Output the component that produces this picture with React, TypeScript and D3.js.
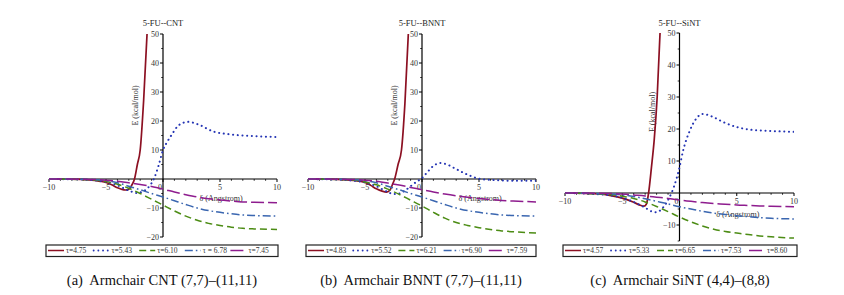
import React from "react";
import * as d3 from "d3";

// δ (Å) vs E (kcal/mol)
const CNT_T1 = [[-10,0],[-8,-0.05],[-6.5,-0.3],[-5.5,-0.8],[-5,-1.2],[-4.5,-2],[-4,-3],[-3.6,-3.6],[-3.3,-3.8],[-3,-3.5],[-2.75,-2.2],[-2.5,0],[-2.25,5],[-2,10],[-1.7,27],[-1.4,50]];
const CNT_T2 = [[-10,0],[-7,-0.2],[-5,-1],[-4,-2.2],[-3,-4],[-2.3,-4.8],[-1.7,-4.2],[-1.2,-2.5],[-0.8,0],[-0.4,4.5],[0,10],[0.4,13],[0.8,15.5],[1.4,18.6],[2.2,19.7],[3.1,18.8],[4.4,16.4],[5.9,15.4],[7.9,14.8],[10,14.5]];
const CNT_T3 = [[-10,0],[-7,-0.2],[-5,-0.9],[-4,-1.8],[-3,-3.2],[-2,-5],[-1,-7],[0,-9],[1,-11],[2,-12.8],[3,-14.2],[4,-15.3],[5,-16],[6,-16.6],[7,-17],[8,-17.2],[10,-17.4]];
const CNT_T4 = [[-10,0],[-7,-0.1],[-5,-0.6],[-4,-1.3],[-3,-2.5],[-2,-3.7],[-1,-5],[0,-6.2],[1,-7.5],[2,-8.8],[3,-10],[4,-10.9],[5,-11.5],[6,-12],[7,-12.4],[8,-12.6],[10,-12.8]];
const CNT_T5 = [[-10,0],[-7,-0.1],[-5,-0.4],[-4,-0.8],[-3,-1.3],[-2,-1.9],[-1,-2.6],[0,-3.5],[1,-4.5],[2,-5.4],[3,-6.2],[4,-6.8],[5,-7.2],[6,-7.6],[7,-7.9],[8,-8],[10,-8.2]];

const BNNT_T1 = [[-10,0],[-8,-0.05],[-6,-0.5],[-5,-1.2],[-4.5,-2.2],[-4,-3.4],[-3.5,-4.2],[-3.1,-4.5],[-2.8,-3.8],[-2.6,-2],[-2.4,0],[-2.1,5],[-1.8,10],[-1.5,26],[-1.2,50]];
const BNNT_T2 = [[-10,0],[-7,-0.3],[-5,-1.2],[-4,-2.5],[-3,-4.5],[-2.5,-5.2],[-2,-5],[-1.5,-4],[-1,-2.5],[-0.5,-1],[0,0.3],[0.5,2.5],[1,4.5],[1.6,5.5],[2.2,5],[3,3.4],[4,1.5],[5,0.1],[6,-0.3],[7,-0.5],[8,-0.6],[10,-0.6]];
const BNNT_T3 = [[-10,0],[-7,-0.2],[-5,-1],[-4,-2],[-3,-3.5],[-2,-5.3],[-1,-7.3],[0,-9.3],[1,-11.5],[2,-13.5],[3,-15],[4,-16],[5,-16.8],[6,-17.4],[7,-17.9],[8,-18.2],[10,-18.6]];
const BNNT_T4 = [[-10,0],[-7,-0.1],[-5,-0.6],[-4,-1.3],[-3,-2.5],[-2,-3.7],[-1,-5],[0,-6.2],[1,-7.5],[2,-8.8],[3,-10],[4,-10.9],[5,-11.5],[6,-12],[7,-12.4],[8,-12.6],[10,-12.8]];
const BNNT_T5 = [[-10,0],[-7,-0.1],[-5,-0.4],[-4,-0.8],[-3,-1.4],[-2,-2.1],[-1,-2.9],[0,-3.7],[1,-4.5],[2,-5.2],[3,-5.8],[4,-6.3],[5,-6.7],[6,-7.1],[7,-7.4],[8,-7.6],[10,-7.9]];

const SINT_T1 = [[-10,0],[-7,-0.3],[-6,-0.8],[-5,-1.6],[-4,-2.9],[-3.5,-3.7],[-3.1,-4.1],[-2.9,-3.5],[-2.7,0],[-2.45,8],[-2.2,17],[-1.95,30],[-1.7,50]];
const SINT_T2 = [[-10,0],[-7,-0.4],[-5,-1.5],[-4,-2.8],[-3,-4.6],[-2.4,-5.8],[-2,-6],[-1.5,-4.8],[-1,-2.2],[-0.7,0],[-0.3,4],[0,8],[0.3,13],[0.9,19.5],[1.5,23.4],[2,24.7],[2.9,23.8],[3.8,22.2],[5,20.6],[6.4,19.7],[7.9,19.4],[10,19.1]];
const SINT_T3 = [[-10,0],[-7,-0.3],[-5,-1],[-4,-1.7],[-3,-2.8],[-2,-4.2],[-1,-5.8],[0,-7.5],[1,-9],[2,-10.3],[3,-11.3],[4,-12],[5,-12.5],[6,-13],[7,-13.4],[8,-13.7],[10,-14.1]];
const SINT_T4 = [[-10,0],[-7,-0.2],[-5,-0.6],[-4,-1.1],[-3,-1.8],[-2,-2.6],[-1,-3.4],[0,-4.3],[1,-5],[2,-5.7],[3,-6.3],[4,-6.7],[5,-7.1],[6,-7.4],[7,-7.7],[8,-7.9],[10,-8.1]];
const SINT_T5 = [[-10,0],[-7,-0.1],[-5,-0.3],[-4,-0.6],[-3,-0.9],[-2,-1.3],[-1,-1.7],[0,-2.2],[1,-2.6],[2,-3],[3,-3.3],[4,-3.5],[5,-3.75],[6,-3.9],[7,-4.05],[8,-4.15],[10,-4.3]];

const CNT_TAU = ["τ=4.75", "τ=5.43", "τ=6.10", "τ = 6.78", "τ=7.45"];
const BNNT_TAU = ["τ=4.83", "τ=5.52", "τ=6.21", "τ=6.90", "τ=7.59"];
const SINT_TAU = ["τ=4.57", "τ=5.33", "τ=6.65", "τ=7.53", "τ=8.60"];

const X_TICKS = [-10, -5, 0, 5, 10];
const Y_TICKS_AB = [-20, -10, 10, 20, 30, 40, 50];
const Y_TICKS_C = [-10, 10, 20, 30, 40, 50];

const COLORS = ["#8c1022", "#2434b4", "#4c8c14", "#3a66b0", "#8e1c8e"];
const DASHES = [null, "0.1,4.6", "7,4", "8,3,1.6,3", "13,4"];

const SERIF = "'Liberation Serif', 'DejaVu Serif', serif";

type Pt = number[];

interface PanelProps {
  series: Pt[][];
  taus: string[];
  title: string;
  caption: string;
  x0: number; x1: number;
  yTop: number; yBot: number;
  yMin: number;
  yTicks: number[];
  legendX0: number; legendX1: number;
}

function Panel(p: PanelProps) {
  const x = d3.scaleLinear().domain([-10, 10]).range([p.x0, p.x1]);
  const y = d3.scaleLinear().domain([p.yMin, 50]).range([p.yBot, p.yTop]);
  const line = d3.line<Pt>().x(d => x(d[0])).y(d => y(d[1])).curve(d3.curveMonotoneX);
  const ax = x(0), ay = y(0);
  const minorY = d3.range(p.yMin, 51, 5).filter(v => v % 10 !== 0);
  const minorX = d3.range(-10, 11, 1).filter(v => v % 5 !== 0);
  const fmt = d3.format("d");
  const legW = (p.legendX1 - p.legendX0 - 4) / 5;
  const legY = 250.5;
  const clipId = "clip" + p.title.replace(/[^A-Za-z]/g, "");

  return (
    <g>
      <defs>
        <clipPath id={clipId}>
          <rect x={p.x0} y={p.yTop - 1} width={p.x1 - p.x0} height={p.yBot - p.yTop + 1} />
        </clipPath>
      </defs>
      <text x={ax} y={26} textAnchor="middle" fontSize={8.5} fill="#222">{p.title}</text>

      {/* axes */}
      <line x1={p.x0} x2={p.x1} y1={ay} y2={ay} stroke="#000" strokeWidth={1.2} />
      <line x1={ax} x2={ax} y1={p.yTop} y2={p.yBot} stroke="#000" strokeWidth={1.2} />
      {p.yTicks.map(v => (
        <g key={"yt" + v}>
          <line x1={ax - 3} x2={ax} y1={y(v)} y2={y(v)} stroke="#000" strokeWidth={1} />
          <text x={ax - 4} y={y(v) + 3} textAnchor="end" fontSize={8} fill="#333">{fmt(v)}</text>
        </g>
      ))}
      {minorY.map(v => (
        <line key={"ym" + v} x1={ax - 1.8} x2={ax} y1={y(v)} y2={y(v)} stroke="#000" strokeWidth={0.8} />
      ))}
      {X_TICKS.map(v => (
        <g key={"xt" + v}>
          <line x1={x(v)} x2={x(v)} y1={ay} y2={ay + 3} stroke="#000" strokeWidth={1} />
          <text x={v === 0 ? x(v) - 3 : x(v)} y={ay + 11} textAnchor="middle" fontSize={8} fill="#333">{fmt(v)}</text>
        </g>
      ))}
      {minorX.map(v => (
        <line key={"xm" + v} x1={x(v)} x2={x(v)} y1={ay} y2={ay + 1.8} stroke="#000" strokeWidth={0.8} />
      ))}

      <text transform={`translate(${ax - 25},${y(25) - 1}) rotate(-90)`} textAnchor="middle" fontSize={8} fill="#333">E (kcal/mol)</text>
      <text x={x(5.1)} y={y(-6.5) + 3} textAnchor="middle" fontSize={8} fill="#333">δ (Angstrom)</text>

      {/* curves */}
      <g clipPath={`url(#${clipId})`}>
        {p.series.map((s, i) => (
          <path key={i} d={line(s) || ""} fill="none" stroke={COLORS[i]}
            strokeWidth={i === 1 ? 2 : i === 0 ? 1.7 : 1.5}
            strokeLinecap={i === 1 ? "round" : "butt"}
            strokeDasharray={DASHES[i] || undefined} />
        ))}
      </g>

      {/* legend */}
      <rect x={p.legendX0} y={245} width={p.legendX1 - p.legendX0} height={11.5} fill="#fff" stroke="#222" strokeWidth={1.2} />
      {p.taus.map((t, i) => {
        const lx = p.legendX0 + 2 + i * legW;
        return (
          <g key={"lg" + i}>
            <line x1={lx} x2={lx + 16} y1={legY} y2={legY} stroke={COLORS[i]} strokeWidth={i === 1 ? 1.8 : 1.5}
              strokeLinecap={i === 1 ? "round" : "butt"} strokeDasharray={DASHES[i] || undefined} />
            <text x={lx + 18} y={legY + 2.8} fontSize={7.5} fill="#333">{t}</text>
          </g>
        );
      })}

      <text x={(p.legendX0 + p.legendX1) / 2} y={285} textAnchor="middle" fontSize={14.5} fill="#111">{p.caption}</text>
    </g>
  );
}

export default function App() {
  return (
    <div style={{ position: "absolute", left: 0, top: 0 }}>
      <svg width={844} height={295} fontFamily={SERIF} style={{ display: "block", background: "#fff" }}>
        <Panel series={[CNT_T1, CNT_T2, CNT_T3, CNT_T4, CNT_T5]} taus={CNT_TAU}
          title="5-FU--CNT" caption={"(a)\u00a0 Armchair CNT (7,7)–(11,11)"}
          x0={49} x1={277} yTop={34} yBot={237} yMin={-20} yTicks={Y_TICKS_AB}
          legendX0={46} legendX1={278} />
        <Panel series={[BNNT_T1, BNNT_T2, BNNT_T3, BNNT_T4, BNNT_T5]} taus={BNNT_TAU}
          title="5-FU--BNNT" caption={"(b)\u00a0 Armchair BNNT (7,7)–(11,11)"}
          x0={308} x1={536} yTop={34} yBot={237} yMin={-20} yTicks={Y_TICKS_AB}
          legendX0={306} legendX1={536} />
        <Panel series={[SINT_T1, SINT_T2, SINT_T3, SINT_T4, SINT_T5]} taus={SINT_TAU}
          title="5-FU--SiNT" caption={"(c)\u00a0 Armchair SiNT (4,4)–(8,8)"}
          x0={565} x1={794} yTop={33} yBot={241} yMin={-15} yTicks={Y_TICKS_C}
          legendX0={563} legendX1={797} />
      </svg>
    </div>
  );
}
